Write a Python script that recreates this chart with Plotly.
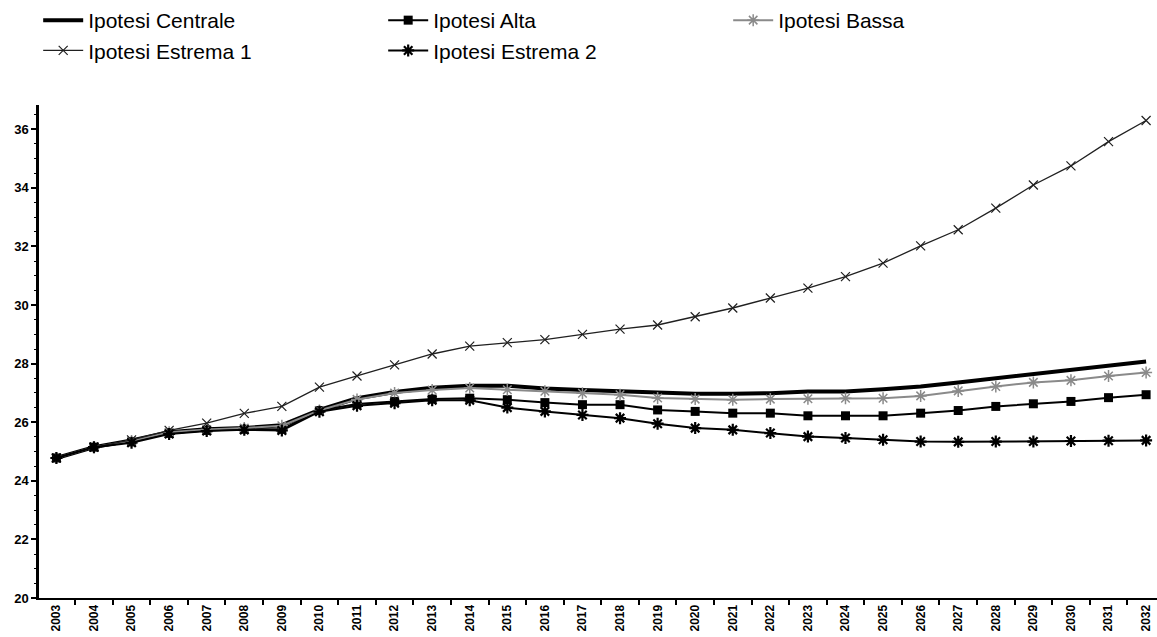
import plotly.graph_objects as go

# Years on the category axis
years = list(range(2003, 2033))

# Projection scenarios
centrale = [24.78, 25.15, 25.38, 25.66, 25.76, 25.80, 25.90, 26.42, 26.82, 27.03,
            27.18, 27.25, 27.25, 27.15, 27.10, 27.05, 27.00, 26.97, 26.97, 26.99,
            27.05, 27.05, 27.13, 27.22, 27.36, 27.50, 27.66, 27.79, 27.95, 28.07]
alta = [24.78, 25.15, 25.33, 25.62, 25.72, 25.76, 25.76, 26.40, 26.62, 26.71,
        26.79, 26.82, 26.77, 26.67, 26.60, 26.60, 26.42, 26.37, 26.31, 26.31,
        26.22, 26.22, 26.22, 26.31, 26.40, 26.54, 26.63, 26.71, 26.84, 26.94]
bassa = [24.78, 25.15, 25.36, 25.66, 25.75, 25.80, 25.88, 26.40, 26.78, 27.00,
         27.10, 27.17, 27.11, 27.06, 26.99, 26.94, 26.83, 26.79, 26.77, 26.79,
         26.80, 26.82, 26.82, 26.90, 27.07, 27.22, 27.36, 27.43, 27.58, 27.70]
estrema1 = [24.78, 25.15, 25.40, 25.72, 25.97, 26.30, 26.54, 27.20, 27.58, 27.96,
            28.33, 28.60, 28.72, 28.82, 29.00, 29.18, 29.32, 29.60, 29.90, 30.24,
            30.58, 30.97, 31.43, 32.02, 32.57, 33.31, 34.10, 34.75, 35.58, 36.30]
estrema2 = [24.78, 25.15, 25.30, 25.60, 25.70, 25.74, 25.72, 26.36, 26.56, 26.65,
            26.75, 26.75, 26.50, 26.37, 26.25, 26.14, 25.95, 25.80, 25.74, 25.63,
            25.51, 25.46, 25.40, 25.34, 25.33, 25.34, 25.34, 25.36, 25.37, 25.38]

y_ticks = [20, 22, 24, 26, 28, 30, 32, 34, 36]

# Legend order: row 1 Centrale / Alta / Bassa, row 2 Estrema 1 / Estrema 2
fig = go.Figure()

fig.add_trace(go.Scatter(
    x=years, y=centrale, name="Ipotesi Centrale", mode="lines",
    line=dict(color="#000000", width=4)))
fig.add_trace(go.Scatter(
    x=years, y=alta, name="Ipotesi Alta", mode="lines+markers",
    line=dict(color="#000000", width=2),
    marker=dict(symbol="square", size=9, color="#000000")))
fig.add_trace(go.Scatter(
    x=years, y=bassa, name="Ipotesi Bassa", mode="lines+markers",
    line=dict(color="#8a8a8a", width=2),
    marker=dict(symbol="asterisk-open", size=10, color="#8a8a8a",
                line=dict(color="#8a8a8a", width=1.5))))
fig.add_trace(go.Scatter(
    x=years, y=estrema1, name="Ipotesi Estrema 1", mode="lines+markers",
    line=dict(color="#202020", width=1.3),
    marker=dict(symbol="x-thin-open", size=9, color="#202020",
                line=dict(color="#202020", width=1.2))))
fig.add_trace(go.Scatter(
    x=years, y=estrema2, name="Ipotesi Estrema 2", mode="lines+markers",
    line=dict(color="#000000", width=2),
    marker=dict(symbol="asterisk-open", size=10, color="#000000",
                line=dict(color="#000000", width=2.2))))

fig.update_layout(
    width=1157, height=637,
    margin=dict(l=39, r=0, t=105, b=39),
    paper_bgcolor="#ffffff", plot_bgcolor="#ffffff",
    font=dict(family="Liberation Sans, Arial, sans-serif", color="#000000"),
    showlegend=True,
    legend=dict(
        orientation="h", xref="container", yref="container",
        x=0.033, y=1.0, xanchor="left", yanchor="top",
        entrywidth=290, entrywidthmode="pixels",
        font=dict(size=21, color="#000000"),
        bgcolor="rgba(0,0,0,0)", itemwidth=40,
    ),
    xaxis=dict(
        range=[2002.537, 2032.29], tickmode="array", tickvals=years,
        ticktext=[str(y) for y in years], tickangle=-90,
        ticks="", showgrid=False, zeroline=False,
        showline=True, linecolor="#000000", linewidth=2,
        tickfont=dict(size=12, weight="bold", color="#000000"),
        minor=dict(ticks="outside", tick0=2002.5, dtick=1, ticklen=5,
                   tickwidth=1.5, tickcolor="#000000", showgrid=False),
    ),
    yaxis=dict(
        range=[20, 36.83], tickmode="array", tickvals=y_ticks,
        ticks="outside", ticklen=5, tickwidth=2, tickcolor="#000000",
        showgrid=False, zeroline=False,
        showline=True, linecolor="#000000", linewidth=2.5,
        tickfont=dict(size=13, weight="bold", color="#000000"),
        minor=dict(ticks="outside", dtick=0.5, ticklen=2, tickwidth=1,
                   tickcolor="#000000", showgrid=False),
    ),
)

fig.write_html("out.html")
